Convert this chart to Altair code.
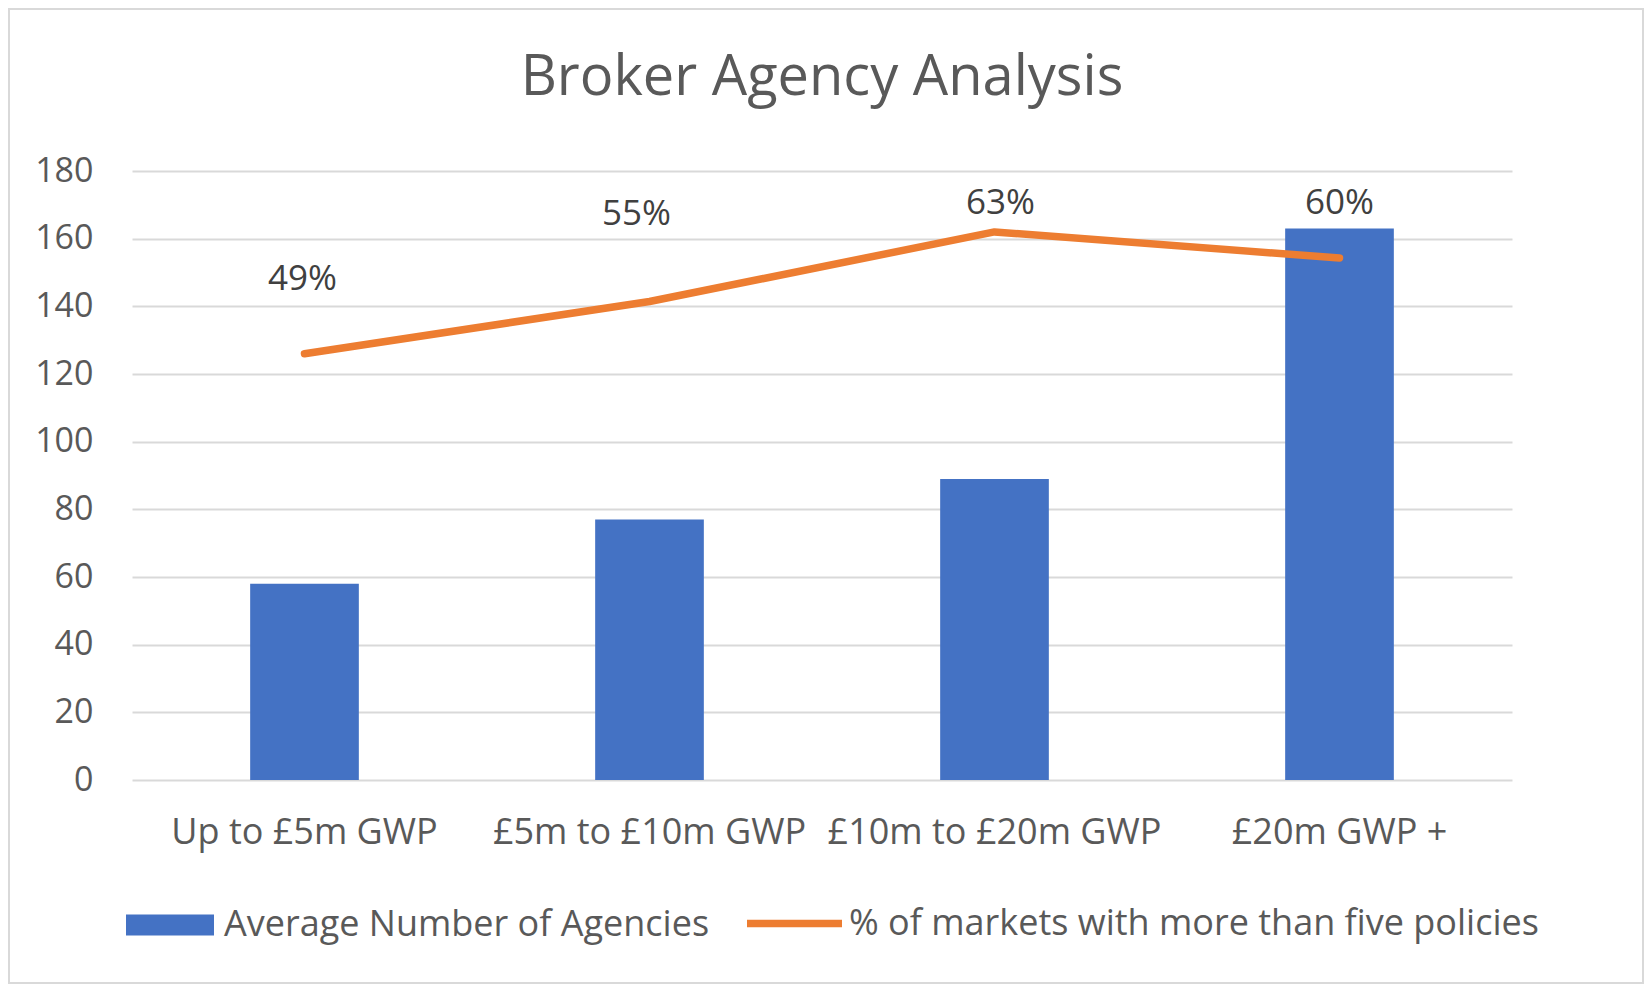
import altair as alt
import pandas as pd

CATEGORIES = ["Up to £5m GWP", "£5m to £10m GWP", "£10m to £20m GWP", "£20m GWP +"]
AVG_AGENCIES = [58, 77, 89, 163]
PCT_MARKETS = [0.49, 0.55, 0.63, 0.60]
BAR_NAME = "Average Number of Agencies"
LINE_NAME = "% of markets with more than five policies"

BLUE = "#4472c4"
ORANGE = "#ed7d31"
GREY_TEXT = "#595959"
GRID = "#d9d9d9"
FONT = "Open Sans"

# label offsets from the line points (px), as placed in the original
LABEL_DX = [-2, -13, 6, 0]
LABEL_DY = [-75, -88, -29, -55]

W, H = 1380, 609
PAD = {"left": 124, "top": 163, "right": 132, "bottom": 204}

df = pd.DataFrame({
    "category": CATEGORIES,
    "agencies": AVG_AGENCIES,
    "pct": PCT_MARKETS,
    "bar_series": BAR_NAME,
    "line_series": LINE_NAME,
})

x_enc = alt.X(
    "category:N", sort=CATEGORIES, title=None,
    scale=alt.Scale(paddingInner=0, paddingOuter=0),
    axis=alt.Axis(labelAngle=0, domain=False, ticks=False, labelPadding=35,
                  labelLimit=0, labelFontSize=36, labelColor=GREY_TEXT, labelFont=FONT),
)

bars = alt.Chart(df).mark_bar(width=alt.RelativeBandSize(0.315), color=BLUE).encode(
    x=x_enc,
    y=alt.Y("agencies:Q", title=None,
            scale=alt.Scale(domain=[0, 180], nice=False),
            axis=alt.Axis(values=list(range(0, 181, 20)), domain=False, ticks=False,
                          gridColor=GRID, gridWidth=2, labelPadding=39,
                          labelFontSize=34, labelColor=GREY_TEXT, labelFont=FONT)),
    fill=alt.Fill("bar_series:N", title=None,
                  scale=alt.Scale(domain=[BAR_NAME], range=[BLUE]),
                  legend=alt.Legend(orient="none", legendX=-6, legendY=710,
                                    symbolType="M-1,-0.24L1,-0.24L1,0.24L-1,0.24Z",
                                    symbolSize=7744, symbolStrokeWidth=0,
                                    labelOffset=10, labelLimit=0, labelFontSize=36,
                                    labelColor=GREY_TEXT, labelFont=FONT)),
)

pct_y = alt.Y("pct:Q", title=None,
              scale=alt.Scale(domain=[0, 0.7], nice=False),
              axis=alt.Axis(orient="right", format=".0%", values=[i / 10 for i in range(8)],
                            grid=False, domain=False, ticks=False, labelPadding=37,
                            labelFontSize=34, labelColor=GREY_TEXT, labelFont=FONT))

line = alt.Chart(df).mark_line(strokeWidth=7.5, strokeCap="round", strokeJoin="round").encode(
    x=alt.X("category:N", sort=CATEGORIES),
    y=pct_y,
    stroke=alt.Stroke("line_series:N", title=None,
                      scale=alt.Scale(domain=[LINE_NAME], range=[ORANGE]),
                      legend=alt.Legend(orient="none", legendX=611, legendY=701,
                                        symbolType="stroke", symbolSize=9025,
                                        symbolStrokeWidth=7.5, labelOffset=3,
                                        labelLimit=0, labelFontSize=36,
                                        labelColor=GREY_TEXT, labelFont=FONT)),
)

labels = [
    alt.Chart(df).transform_filter(alt.datum.category == cat)
    .mark_text(dx=dx, dy=dy, fontSize=35, font=FONT, color="#404040")
    .encode(
        x=alt.X("category:N", sort=CATEGORIES),
        y=alt.Y("pct:Q", axis=None, scale=alt.Scale(domain=[0, 0.7], nice=False)),
        text=alt.Text("pct:Q", format=".0%"),
    )
    for cat, dx, dy in zip(CATEGORIES, LABEL_DX, LABEL_DY)
]

pct_layer = alt.layer(line, *labels)

border = alt.Chart(pd.DataFrame({"k": [0]})).mark_rect(
    fill=None, stroke=GRID, strokeWidth=2
).encode(
    x=alt.value(-PAD["left"] + 1), x2=alt.value(W + PAD["right"] - 1),
    y=alt.value(-PAD["top"] + 1), y2=alt.value(H + PAD["bottom"] - 1),
)

chart = alt.layer(border, bars, pct_layer).resolve_scale(
    y="independent"
).properties(
    width=W, height=H,
    padding=PAD,
    autosize=alt.AutoSizeParams(type="none"),
    background="white",
    title=alt.Title("Broker Agency Analysis", fontSize=56, font=FONT,
                    fontWeight="normal", color=GREY_TEXT, anchor="middle",
                    baseline="middle", offset=0, dy=126),
).configure_view(stroke=None)

chart.save("out.html", embed_options={"renderer": "svg", "actions": False})
